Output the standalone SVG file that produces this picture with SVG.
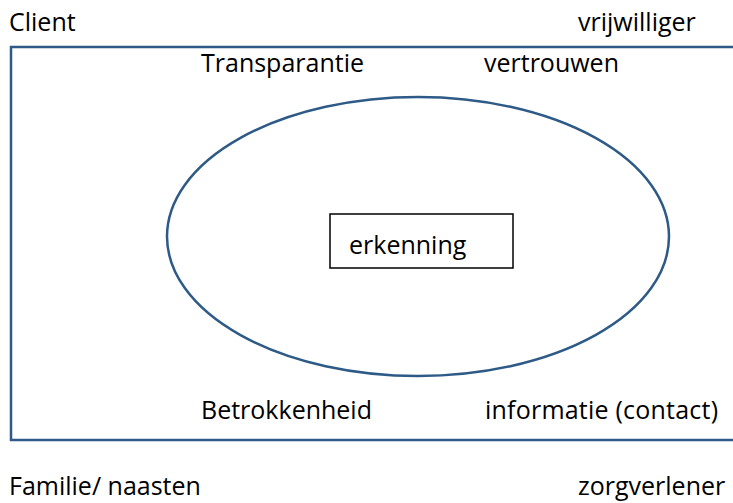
<svg xmlns="http://www.w3.org/2000/svg" width="733" height="503" viewBox="0 0 733 503">
<style>
text{font-family:"Open Sans","Liberation Sans",sans-serif;font-size:25px;fill:#000}
.frame{fill:none;stroke:#2E5A87;stroke-width:2.5}
.box{fill:#fff;stroke:#000;stroke-width:1.5}
</style>
<rect width="733" height="503" fill="#fff"/>
<g id="frame"><rect class="frame" x="11" y="47" width="730" height="393"/></g>
<g id="ellipse"><ellipse class="frame" cx="418" cy="236.5" rx="251" ry="139.5"/></g>
<g id="erkenning"><rect class="box" x="330" y="214" width="183" height="54"/><text x="349" y="254">erkenning</text></g>
<g id="labels">
<text x="9" y="31">Client</text>
<text x="578" y="31">vrijwilliger</text>
<text x="201" y="72">Transparantie</text>
<text x="484" y="72">vertrouwen</text>
<text x="201" y="419">Betrokkenheid</text>
<text x="485" y="419" textLength="233">informatie (contact)</text>
<text x="9" y="495">Familie/ naasten</text>
<text x="578" y="495">zorgverlener</text>
</g>
<g id="connectors"/>
</svg>
